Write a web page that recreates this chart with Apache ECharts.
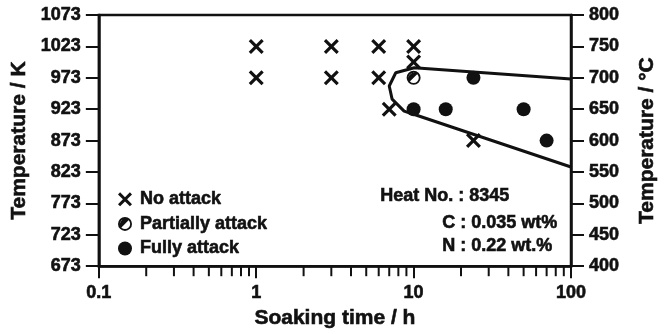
<!DOCTYPE html>
<html>
<head>
<meta charset="utf-8">
<script src="https://cdn.jsdelivr.net/npm/echarts@6/dist/echarts.min.js"></script>
<style>
  html, body { margin: 0; padding: 0; background: #fff; }
  #chart { width: 667px; height: 334px; }
</style>
</head>
<body>
<div id="chart"></div>
<script>
// soaking time (h) / temperature (degC)
var noAttack = [[1, 750], [1, 700], [3, 750], [3, 700], [6, 750], [6, 700], [10, 750], [10, 725], [7, 650], [24, 600]];
var partialAttack = [[10, 700]];
var fullAttack = [[10, 650], [16, 650], [24, 700], [50, 650], [70, 600]];
// C-curve boundary
var boundary = [[100, 698], [10.1, 716], [7.7, 708], [7.0, 687], [7.3, 666], [8.7, 647], [10, 642], [100, 558]];

var tempTicksC = [400, 450, 500, 550, 600, 650, 700, 750, 800];
var minorTicks = [0.2, 0.3, 0.4, 0.5, 0.6, 0.7, 0.8, 0.9, 2, 3, 4, 5, 6, 7, 8, 9, 20, 30, 40, 50, 60, 70, 80, 90];
var notes = ['Heat No. : 8345', 'C : 0.035 wt%', 'N : 0.22 wt.%'];

var FONT = 'Liberation Sans, Arial, sans-serif';
var INK = '#111';
// thicken text a bit, the scan is heavy
var heavy = { textBorderColor: INK, textBorderWidth: 0.6 };

var crossPath = 'path://M0,3L3,0L10,7L17,0L20,3L13,10L20,17L17,20L10,13L3,20L0,17L7,10Z';
// ring + upper-left half disc
var halfPath = 'path://M0,10A10,10,0,1,1,20,10A10,10,0,1,1,0,10Z' +
  'M2.6,10A7.4,7.4,0,1,0,17.4,10A7.4,7.4,0,1,0,2.6,10Z' +
  'M4.2,15.8A8.3,8.3,0,0,1,15.8,4.2Z';

var chart = echarts.init(document.getElementById('chart'));

var labelStyle = Object.assign({ margin: 18, fontFamily: FONT, fontWeight: 'bold', fontSize: 18, color: INK }, heavy);
var nameStyle = Object.assign({ fontFamily: FONT, fontWeight: 'bold', fontSize: 21, color: INK }, heavy);

var yBase = {
  type: 'value',
  min: 400,
  max: 800,
  interval: 50,
  nameLocation: 'middle',
  nameTextStyle: nameStyle,
  axisLine: { show: true, lineStyle: { color: INK, width: 2.5 } },
  axisTick: { show: true, inside: false, length: 13, lineStyle: { color: INK, width: 2 } },
  axisLabel: labelStyle,
  splitLine: { show: false }
};

var option = {
  animation: false,
  backgroundColor: '#fff',
  grid: { left: 96, right: 96, top: 15, bottom: 66, show: true, borderColor: INK, borderWidth: 2.5 },
  xAxis: {
    type: 'log',
    logBase: 10,
    min: 0.1,
    max: 100,
    name: 'Soaking time / h',
    nameLocation: 'middle',
    nameGap: 37,
    nameTextStyle: nameStyle,
    axisLine: { lineStyle: { color: INK, width: 2.5 } },
    axisTick: { length: 12, lineStyle: { color: INK, width: 2 } },
    axisLabel: labelStyle,
    splitLine: { show: false }
  },
  yAxis: [
    Object.assign({}, yBase, {
      position: 'left',
      name: 'Temperature / K',
      nameGap: 55,
      axisLabel: Object.assign({}, labelStyle, {
        formatter: function (v) { return String(v + 273); }
      })
    }),
    Object.assign({}, yBase, {
      position: 'right',
      name: 'Temperature / \u00B0C',
      nameGap: 66,
      nameRotate: 90,
      axisLabel: Object.assign({}, labelStyle, {
        formatter: function (v) { return tempTicksC.indexOf(v) >= 0 ? String(v) : ''; }
      })
    })
  ],
  legend: {
    orient: 'vertical',
    left: 118,
    top: 190,
    padding: 0,
    itemWidth: 14,
    itemHeight: 14,
    itemGap: 6,
    data: ['No attack', 'Partially attack', 'Fully attack'],
    textStyle: Object.assign({ fontFamily: FONT, fontWeight: 'bold', fontSize: 18, color: INK, lineHeight: 18, padding: [0, 0, 0, 3] }, heavy)
  },
  graphic: [
    { type: 'text', left: 380, top: 187, style: { text: notes[0], font: 'bold 18px ' + FONT, fill: INK, stroke: INK, lineWidth: 0.6 } },
    { type: 'text', left: 442, top: 214, style: { text: notes[1], font: 'bold 18px ' + FONT, fill: INK, stroke: INK, lineWidth: 0.6 } },
    { type: 'text', left: 442, top: 237, style: { text: notes[2], font: 'bold 18px ' + FONT, fill: INK, stroke: INK, lineWidth: 0.6 } }
  ],
  series: [
    {
      name: 'boundary',
      type: 'line',
      data: boundary,
      showSymbol: false,
      symbol: 'none',
      z: 1,
      lineStyle: { color: INK, width: 3 }
    },
    {
      name: 'minor ticks',
      type: 'custom',
      silent: true,
      clip: false,
      data: minorTicks.map(function (v) { return [v, 400]; }),
      renderItem: function (params, api) {
        var p = api.coord([api.value(0), api.value(1)]);
        return {
          type: 'line',
          shape: { x1: p[0], y1: p[1], x2: p[0], y2: p[1] + 10 },
          style: { stroke: INK, lineWidth: 2 }
        };
      }
    },
    {
      name: 'No attack',
      type: 'scatter',
      data: noAttack,
      symbol: crossPath,
      symbolSize: 15,
      z: 3,
      itemStyle: { color: INK, opacity: 1 }
    },
    {
      name: 'Partially attack',
      type: 'scatter',
      data: partialAttack,
      symbol: halfPath,
      symbolSize: 14,
      z: 3,
      itemStyle: { color: INK, opacity: 1 }
    },
    {
      name: 'Fully attack',
      type: 'scatter',
      data: fullAttack,
      symbol: 'circle',
      symbolSize: 14,
      z: 3,
      itemStyle: { color: INK, opacity: 1 }
    }
  ]
};

chart.setOption(option);
</script>
</body>
</html>
